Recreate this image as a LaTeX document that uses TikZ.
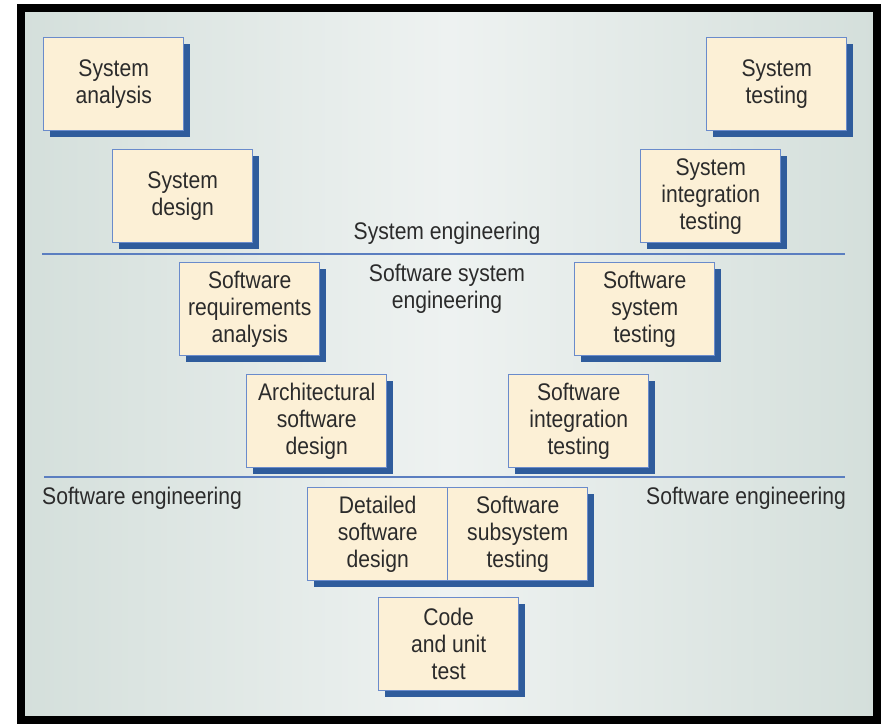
\documentclass[tikz,border=0pt]{standalone}
\usepackage{fontspec}
\setmainfont{Liberation Sans}[FakeStretch=0.88]
\usetikzlibrary{shadows}
\definecolor{boxfill}{HTML}{FCF0D6}
\definecolor{boxline}{HTML}{6A8BCB}
\definecolor{shadowblue}{HTML}{2F5C9C}
\definecolor{rulecol}{HTML}{5B7EC0}
\definecolor{bgedge}{HTML}{D4DFDB}
\definecolor{bgmid}{HTML}{EEF2F1}
\definecolor{txt}{HTML}{2B2B2B}
\begin{document}
\begin{tikzpicture}[x=1pt,y=-1pt,
  stage/.style={draw=boxline, line width=1.4pt, fill=boxfill, minimum width=140pt,
    minimum height=93pt, inner sep=0pt, align=center, anchor=north west,
    font=\fontsize{24}{27}\selectfont, text=txt,
    drop shadow={shadow xshift=6.5pt, shadow yshift=-6.5pt, fill=shadowblue, opacity=1}},
  lbl/.style={font=\fontsize{24}{27}\selectfont, text=txt, align=center, inner sep=0pt},
  rule/.style={draw=rulecol, line width=1.1pt}]
\useasboundingbox (0,0) rectangle (882,723);
\fill[white] (0,0) rectangle (882,723);
% background and frame
\shade[left color=bgedge, right color=bgedge, middle color=bgmid] (20,7.5) rectangle (877,720);
\draw[black, line width=8pt] (20.5,7.5) rectangle (877,720);
% rules
\coordinate (r1a) at (42,254);
\coordinate (r1b) at (845,254);
\coordinate (r2a) at (44,477);
\coordinate (r2b) at (845,477);
\draw[rule] (r1a) -- (r1b);
\draw[rule] (r2a) -- (r2b);
% boxes
\node[stage] (sa) at (43,37) {System\\analysis};
\node[stage] (sd) at (112,149) {System\\design};
\node[stage] (st) at (706,37) {System\\testing};
\node[stage] (sit) at (640,149) {System\\integration\\testing};
\node[stage] (sra) at (179,262) {Software\\requirements\\analysis};
\node[stage] (sst) at (574,262) {Software\\system\\testing};
\node[stage] (asd) at (246,374) {Architectural\\software\\design};
\node[stage] (sint) at (508,374) {Software\\integration\\testing};
\node[stage] (dsd) at (307,487) {Detailed\\software\\design};
\node[stage] (sss) at (447,487) {Software\\subsystem\\testing};
\node[stage] (cut) at (378,597) {Code\\and unit\\test};
% labels
\node[lbl] (l1) at (447,233.5) {System engineering};
\node[lbl] (l2) at (447,288.5) {Software system\\engineering};
\node[lbl, anchor=west] (l3) at (42,498.5) {Software engineering};
\node[lbl, anchor=east] (l4) at (846,498.5) {Software engineering};
\end{tikzpicture}
\end{document}
